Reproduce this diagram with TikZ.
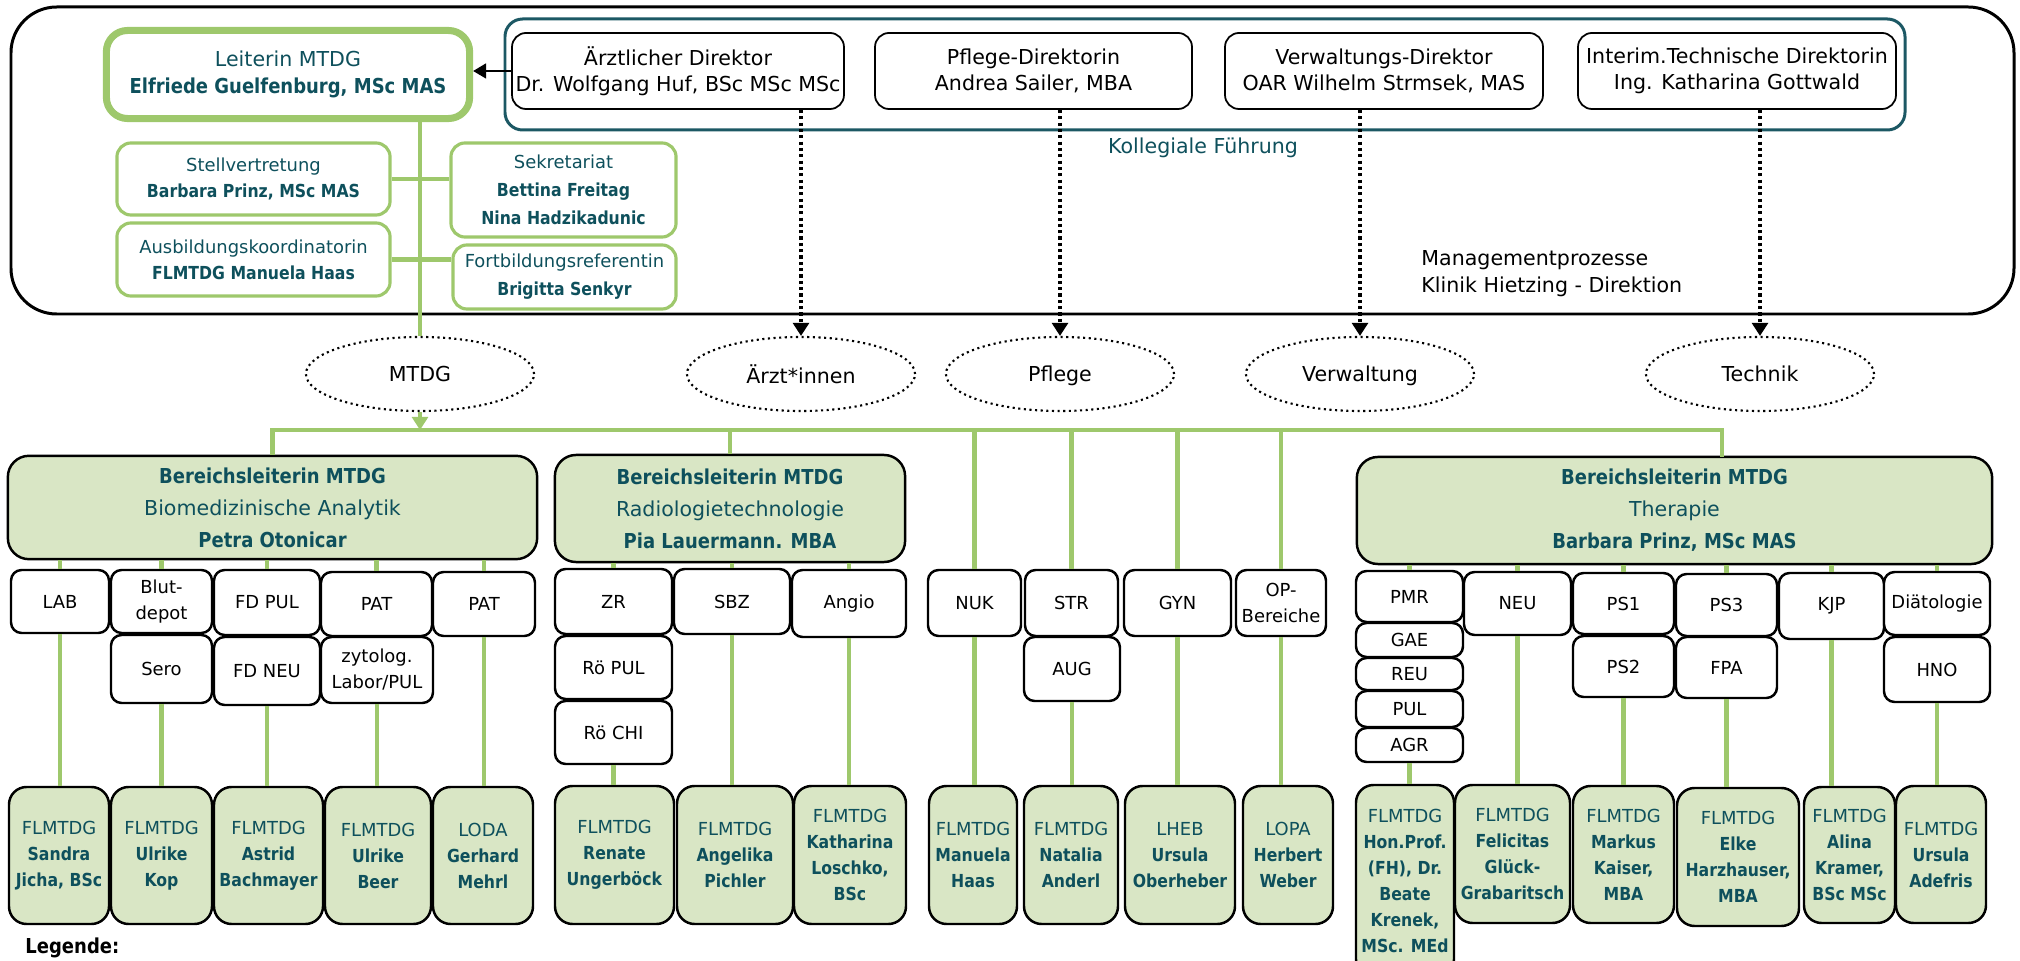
\documentclass[tikz,border=0pt]{standalone}
\usepackage{fontspec}
\setmainfont{DejaVu Sans}[BoldFeatures={FakeStretch=0.875}]
\usetikzlibrary{shapes.geometric, arrows.meta}
\definecolor{tealtxt}{RGB}{14,80,92}
\definecolor{tealframe}{RGB}{28,88,100}
\definecolor{linegreen}{RGB}{158,200,108}
\definecolor{fillgreen}{RGB}{217,230,197}
\newcommand{\fsbig}{\fontsize{5.85}{7.4}\selectfont}
\newcommand{\fssmall}{\fontsize{5.1}{7.4}\selectfont}

\begin{document}
\begin{tikzpicture}[x=0.01cm, y=-0.01cm,
    unit/.style={draw, line width=0.7pt, rounded corners=3pt, fill=white, font=\fssmall, align=center, inner sep=1pt},
    dir/.style={draw, line width=0.5pt, rounded corners=4pt, font=\fsbig, align=center, inner sep=1pt},
    staff/.style={draw=linegreen, line width=0.9pt, rounded corners=4pt, font=\fssmall, text=tealtxt, align=center, inner sep=1pt},
    area/.style={draw, line width=0.7pt, rounded corners=6pt, fill=fillgreen, text=tealtxt, font={\fontsize{5.85}{9.1}\selectfont}, align=center},
    person/.style={draw, line width=0.7pt, rounded corners=5pt, fill=fillgreen, text=tealtxt, font=\fssmall, align=center, inner sep=1pt},
    oval/.style={ellipse, draw, densely dotted, line width=0.6pt, minimum width=2.28cm, minimum height=0.74cm, font=\fsbig, inner sep=0pt},
    gline/.style={draw=linegreen, line width=1.4pt},
    dotarrow/.style={line width=0.9pt, dash pattern=on 0.9pt off 0.9pt, -{Triangle[length=3.7pt, width=4.5pt]}}]

    \useasboundingbox (0,0) rectangle (2020,961);
    \clip (0,0) rectangle (2020,961);

    \draw[line width=0.85pt, rounded corners=13pt] (11,7) rectangle (2014,314);
    \draw[tealframe, line width=0.85pt, rounded corners=5pt] (505,19) rectangle (1905,130);

    \node[draw=linegreen, line width=2pt, rounded corners=6pt, minimum width=3.63cm, minimum height=0.88cm, text=tealtxt, align=center, font={\fontsize{5.85}{7.7}\selectfont}] (leit) at (288,74.5) {Leiterin MTDG\\\textbf{Elfriede Guelfenburg, MSc MAS}};

    \foreach \n/\xa/\xb/\txt in {d1/513/843/{Ärztlicher Direktor\\Dr. Wolfgang Huf, BSc MSc MSc},
        d2/875/1192/{Pflege-Direktorin\\Andrea Sailer, MBA},
        d3/1225/1543/{Verwaltungs-Direktor\\OAR Wilhelm Strmsek, MAS},
        d4/1578/1896/{Interim.Technische Direktorin\\Ing. Katharina Gottwald}}
        \node[dir, minimum width={(\xb-\xa)*0.01cm}, minimum height=0.76cm] (\n) at ({(\xa+\xb)/2},71) {\txt};

    \node[staff, minimum width=2.73cm, minimum height=0.72cm] (stv) at (253.5,179) {Stellvertretung\\\textbf{Barbara Prinz, MSc MAS}};
    \node[staff, minimum width=2.25cm, minimum height=0.94cm, font={\fontsize{5.1}{8}\selectfont}] (sek) at (563.5,190) {Sekretariat\\\textbf{Bettina Freitag}\\\textbf{Nina Hadzikadunic}};
    \node[staff, minimum width=2.73cm, minimum height=0.73cm] (aus) at (253.5,259.5) {Ausbildungskoordinatorin\\\textbf{FLMTDG Manuela Haas}};
    \node[staff, minimum width=2.23cm, minimum height=0.64cm, font={\fontsize{5.1}{8}\selectfont}] (fob) at (564.5,277) {Fortbildungsreferentin\\\textbf{Brigitta Senkyr}};

    \node[text=tealtxt, font=\fsbig] (koll) at (1203,148) {Kollegiale Führung};
    \node[font={\fontsize{5.85}{7.7}\selectfont}, align=left, anchor=west] (mgmt) at (1409,274) {Managementprozesse\\Klinik Hietzing - Direktion};

    \foreach \n/\xc/\txt in {e0/420/MTDG, e1/801/Ärzt*innen, e2/1060/Pflege, e3/1360/Verwaltung, e4/1760/Technik}
        \node[oval, text depth=0pt, yshift=-0.03cm] (\n) at (\xc,371) {\txt};

    \node[area, minimum width=5.29cm, minimum height=1.03cm] (bio) at (272.5,507.5) {\textbf{Bereichsleiterin MTDG}\\Biomedizinische Analytik\\\textbf{Petra Otonicar}};
    \node[area, minimum width=3.5cm, minimum height=1.07cm] (rad) at (730,508.5) {\textbf{Bereichsleiterin MTDG}\\Radiologietechnologie\\\textbf{Pia Lauermann. MBA}};
    \node[area, minimum width=6.35cm, minimum height=1.07cm] (ther) at (1674.5,510.5) {\textbf{Bereichsleiterin MTDG}\\Therapie\\\textbf{Barbara Prinz, MSc MAS}};

    \foreach \n/\xa/\ya/\xb/\yb/\txt in {lab/11/570/109/633/LAB, blut/111/570/212/633/{Blut-\\depot},
        sero/111/635/212/703/Sero, fdp/214/570/320/635/FD PUL, fdn/214/637/320/705/FD NEU,
        pat1/321/572/432/636/PAT, zyt/321/637/433/703/{zytolog.\\Labor/PUL}, pat2/433/572/535/636/PAT,
        zr/555/569/672/634/ZR, rpul/555/636/672/699/Rö PUL, rchi/555/701/672/764/Rö CHI,
        sbz/674/569/790/634/SBZ, angio/792/570/906/637/Angio,
        nuk/928/570/1021/636/NUK, str/1025/570/1118/636/STR, aug/1024/637/1120/701/AUG,
        gyn/1124/570/1231/636/GYN, op/1236/570/1326/636/{OP-\\Bereiche},
        pmr/1356/571/1463/622/PMR, gae/1356/623/1463/657/GAE, reu/1356/658/1463/690/REU,
        pul/1356/691/1463/727/PUL, agr/1356/728/1463/762/AGR, neu/1464/572/1571/635/NEU,
        ps1/1573/573/1674/634/PS1, ps2/1573/636/1674/697/PS2, ps3/1676/574/1777/636/PS3,
        fpa/1676/637/1777/698/FPA, kjp/1779/573/1884/639/KJP, dia/1884/572/1990/635/Diätologie,
        hno/1884/637/1990/702/HNO}
        \node[unit, minimum width={(\xb-\xa)*0.01cm}, minimum height={(\yb-\ya)*0.01cm}] (\n) at ({(\xa+\xb)/2},{(\ya+\yb)/2}) {\txt};

    \foreach \n/\xa/\ya/\xb/\yb/\txt in {p1/9/787/109/924/{FLMTDG\\\textbf{Sandra}\\\textbf{Jicha, BSc}},
        p2/111/787/212/924/{FLMTDG\\\textbf{Ulrike}\\\textbf{Kop}},
        p3/214/787/323/924/{FLMTDG\\\textbf{Astrid}\\\textbf{Bachmayer}},
        p4/325/787/431/924/{FLMTDG\\\textbf{Ulrike}\\\textbf{Beer}},
        p5/433/787/533/924/{LODA\\\textbf{Gerhard}\\\textbf{Mehrl}},
        p6/555/786/674/924/{FLMTDG\\\textbf{Renate}\\\textbf{Ungerböck}},
        p7/677/786/793/924/{FLMTDG\\\textbf{Angelika}\\\textbf{Pichler}},
        p8/794/786/906/924/{FLMTDG\\\textbf{Katharina}\\\textbf{Loschko,}\\\textbf{BSc}},
        p9/929/786/1017/924/{FLMTDG\\\textbf{Manuela}\\\textbf{Haas}},
        p10/1024/786/1118/924/{FLMTDG\\\textbf{Natalia}\\\textbf{Anderl}},
        p11/1125/786/1235/924/{LHEB\\\textbf{Ursula}\\\textbf{Oberheber}},
        p12/1243/786/1333/924/{LOPA\\\textbf{Herbert}\\\textbf{Weber}},
        p13/1356/785/1454/977/{FLMTDG\\\textbf{Hon.Prof.}\\\textbf{(FH), Dr.}\\\textbf{Beate}\\\textbf{Krenek,}\\\textbf{MSc. MEd}},
        p14/1455/785/1570/923/{FLMTDG\\\textbf{Felicitas}\\\textbf{Glück-}\\\textbf{Grabaritsch}},
        p15/1573/786/1674/923/{FLMTDG\\\textbf{Markus}\\\textbf{Kaiser,}\\\textbf{MBA}},
        p16/1677/788/1799/926/{FLMTDG\\\textbf{Elke}\\\textbf{Harzhauser,}\\\textbf{MBA}},
        p17/1804/787/1895/923/{FLMTDG\\\textbf{Alina}\\\textbf{Kramer,}\\\textbf{BSc MSc}},
        p18/1896/786/1986/923/{FLMTDG\\\textbf{Ursula}\\\textbf{Adefris}}}
        \node[person, minimum width={(\xb-\xa)*0.01cm}, minimum height={(\yb-\ya)*0.01cm}] (\n) at ({(\xa+\xb)/2},{(\ya+\yb)/2}) {\txt};

    \node[font={\fsbig\bfseries}, anchor=base west] (leg) at (13,954) {Legende:};

    \draw[line width=0.7pt, -{Triangle[length=3.7pt, width=4.2pt]}] (d1.west) -- (d1.west -| leit.east);
    \draw[gline] (leit.south -| e0.north) -- (e0.north);
    \draw[gline] (stv.east) -- (stv.east -| sek.west);
    \draw[gline] (aus.east) -- (aus.east -| fob.west);
    \foreach \a/\b in {d1/e1, d2/e2, d3/e3, d4/e4}
        \draw[dotarrow] (\a.south -| \b.north) -- (\b.north);

    \coordinate (bar) at (420,430);
    \coordinate (tdrop) at (1722,457);
    \draw[gline, -{Triangle[length=3.7pt, width=4.5pt]}] (e0.south) -- (bar);
    \draw[gline] (bio.north) |- (bar) -| (tdrop);
    \foreach \n in {rad, nuk, str, gyn, op}
        \draw[gline] (\n.north |- bar) -- (\n.north);
    \foreach \a/\b in {bio/lab, bio/blut, bio/fdp, bio/pat1, bio/pat2, rad/zr, rad/sbz, rad/angio,
        ther/pmr, ther/neu, ther/ps1, ther/ps3, ther/kjp, ther/dia}
        \draw[gline] (\a.south -| \b.north) -- (\b.north);
    \foreach \a/\b in {lab/p1, sero/p2, fdn/p3, zyt/p4, pat2/p5, rchi/p6, sbz/p7, angio/p8, nuk/p9,
        aug/p10, gyn/p11, op/p12, agr/p13, neu/p14, ps2/p15, fpa/p16, kjp/p17, hno/p18}
        \draw[gline] (\a.south) -- (\a.south |- \b.north);
\end{tikzpicture}
\end{document}
